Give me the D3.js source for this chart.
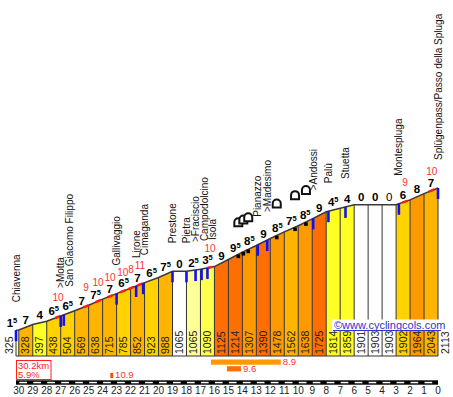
<!DOCTYPE html>
<html>
<head>
<meta charset="utf-8">
<script src="https://cdn.jsdelivr.net/npm/d3@7"></script>
<style>
  body { margin: 0; background: #fff; }
  svg { display: block; font-family: 'Liberation Sans', Arial, sans-serif; }
</style>
</head>
<body>
<svg width="453" height="397"></svg>
<script>
// km to the top, and altitude at each point
const kms = [30.2, 30, 29, 28, 27, 26, 25, 24, 23, 22, 21, 20, 19, 18, 17, 16, 15, 14, 13, 12, 11, 10, 9, 8, 7, 6, 5, 4, 3, 2, 1, 0];
const elevations = [325, 328, 397, 438, 504, 569, 638, 715, 785, 852, 923, 988, 1065, 1065, 1090, 1125, 1214, 1307, 1390, 1478, 1562, 1638, 1725, 1814, 1859, 1901, 1903, 1903, 1902, 1964, 2043, 2113];
// gradient label of each segment
const gradients = [1.5, 7, 4, 6.5, 6.5, 7, 7.5, 7, 6.5, 7, 6.5, 7.5, 0, 2.5, 3.5, 9, 9.5, 8.5, 9, 8.5, 7.5, 8.5, 9, 4.5, 4, 0, 0, 0, 6, 8, 7];

const placeNames = ['Chiavenna', '>Motta', 'San Giacomo Filippo', 'Gallivaggio', 'Lirone', 'Cimaganda', 'Prestone', 'Pietra', '>Fraciscio', 'Campodolcino', 'Isola', 'Pianazzo', '>Madesimo', '>Andossi', 'Palù', 'Stuetta', 'Montespluga', 'Splügenpass/Passo della Spluga'];
const placeKms = [30.2, 27.0, 26.78, 23.0, 21.6, 21.1, 19.0, 18.0, 17.35, 16.92, 16.5, 12.9, 12.22, 8.93, 7.84, 6.62, 2.8, 0];

const tunnelKms = [14.29, 13.93, 13.58, 11.54, 10.23, 9.45];

// short steep spots (max gradient)
const steepKms = [27.19, 25.19, 24.33, 23.47, 22.56, 21.97, 21.33, 16.32, 2.36, 0.45];
const steepValues = [10, 9, 10, 10, 10, 8, 11, 10, 9, 10];

// steepest 5 km, 1 km and shortest stretch
const steepestFrom = [16.25, 15.1, 23.45];
const steepestTo = [11.25, 14.1, 23.25];
const steepestValues = [8.9, 9.6, 10.9];

const kmTicks = [30, 29, 28, 27, 26, 25, 24, 23, 22, 21, 20, 19, 18, 17, 16, 15, 14, 13, 12, 11, 10, 9, 8, 7, 6, 5, 4, 3, 2, 1, 0];
const totalLength = '30.2km';
const avgGradient = '5.9%';

const svg = d3.select('svg');

const x = d3.scaleLinear().domain([30.2, 0]).range([16, 438]);
const y = d3.scaleLinear().domain([0, 2113]).range([356, 188]);
const elevAt = d3.scaleLinear().domain(kms).range(elevations);
const profileY = km => y(elevAt(km));

function fillFor(g) {
  if (g < 1) return '#ffffff';
  if (g < 2) return '#ffffcc';
  if (g < 3) return '#ffff99';
  if (g < 4) return '#ffff4d';
  if (g < 5) return '#ffff26';
  if (g < 6) return '#ffe600';
  if (g < 7) return '#ffd200';
  if (g < 8) return '#ffb400';
  if (g < 9) return '#ff9900';
  if (g < 10) return '#ff6e00';
  return '#ff4d00';
}

const segments = gradients.map((g, i) => ({
  i, g,
  k0: kms[i], k1: kms[i + 1],
  e0: elevations[i], e1: elevations[i + 1]
}));

// columns
svg.append('g').selectAll('path')
  .data(segments)
  .join('path')
  .attr('d', d => d3.line()([
    [x(d.k0), y(0)], [x(d.k0), y(d.e0)], [x(d.k1), y(d.e1)], [x(d.k1), y(0)]
  ]) + 'Z')
  .attr('fill', d => fillFor(d.g));

// km separators
svg.append('g').selectAll('line')
  .data(kms)
  .join('line')
  .attr('x1', d => x(d)).attr('x2', d => x(d))
  .attr('y1', y(0)).attr('y2', (d, i) => y(elevations[i]))
  .attr('stroke', '#333').attr('stroke-width', 1);

svg.append('line')
  .attr('x1', x(30.2)).attr('x2', x(0))
  .attr('y1', y(0)).attr('y2', y(0))
  .attr('stroke', '#333');

// profile outline
svg.append('path')
  .attr('d', d3.line().x(d => x(d[0])).y(d => y(d[1]))(kms.map((k, i) => [k, elevations[i]])))
  .attr('fill', 'none')
  .attr('stroke', '#3a3a3a')
  .attr('stroke-width', 1.5);

// steep spots
svg.append('g').selectAll('line')
  .data(steepKms)
  .join('line')
  .attr('x1', d => x(d + 0.2)).attr('y1', d => profileY(d + 0.2))
  .attr('x2', d => x(d - 0.2)).attr('y2', d => profileY(d - 0.2))
  .attr('stroke', '#ff1a1a').attr('stroke-width', 2.5);

svg.append('g').selectAll('text')
  .data(steepKms)
  .join('text')
  .attr('x', d => x(d))
  .attr('y', d => profileY(d) - 15.5)
  .attr('text-anchor', 'middle')
  .attr('font-size', 10)
  .attr('fill', '#ff3030')
  .text((d, i) => steepValues[i]);

// elevation labels inside columns
const elevLabels = svg.append('g')
  .attr('font-size', 10.5)
  .attr('fill', '#222');

elevLabels.selectAll('text')
  .data(elevations.map((e, i) => ({ e, i })))
  .join('text')
  .attr('transform', d => {
    let cx;
    if (d.i === 0) cx = x(kms[0]) - 7;
    else if (d.i === elevations.length - 1) cx = x(kms[d.i]) + 7;
    else cx = (x(kms[d.i]) + x(kms[d.i + 1])) / 2;
    return `translate(${cx},354) rotate(-90)`;
  })
  .attr('dy', '0.35em')
  .text(d => d.e);

// gradient labels
svg.append('g').selectAll('text')
  .data(segments)
  .join('text')
  .attr('x', d => {
    const w = x(d.k1) - x(d.k0);
    return w < 7 ? x(d.k1) - 1.5 : (x(d.k0) + x(d.k1)) / 2;
  })
  .attr('y', d => y((d.e0 + d.e1) / 2) - 3.5)
  .attr('text-anchor', d => (x(d.k1) - x(d.k0) < 7 ? 'end' : 'middle'))
  .attr('font-size', 11.5)
  .attr('font-weight', d => (d.e1 < d.e0 ? 'normal' : 'bold'))
  .attr('fill', '#000')
  .each(function (d) {
    const t = d3.select(this);
    t.append('tspan').text(Math.floor(d.g));
    if (d.g % 1) t.append('tspan').attr('font-size', 7.5).attr('dy', -4).text('5');
  });

// place markers
svg.append('g').selectAll('line')
  .data(placeKms)
  .join('line')
  .attr('x1', d => x(d)).attr('x2', d => x(d))
  .attr('y1', d => profileY(d)).attr('y2', d => profileY(d) + 11)
  .attr('stroke', '#1010ff').attr('stroke-width', 2.6);

// place labels, pushed apart when close
let lastX = -Infinity;
const placeX = placeKms.map(k => {
  const px = Math.max(x(k), lastX + 8.7);
  lastX = px;
  return px;
});

svg.append('g').selectAll('text')
  .data(placeNames)
  .join('text')
  .attr('transform', (d, i) => `translate(${placeX[i]},${profileY(placeKms[i]) - 28}) rotate(-90)`)
  .attr('dy', '0.35em')
  .attr('font-size', 10)
  .attr('fill', '#111')
  .text(d => d);

// tunnels
svg.append('g').selectAll('rect')
  .data(tunnelKms)
  .join('rect')
  .attr('x', d => x(d) - 1.8)
  .attr('y', d => profileY(d) + 0.3)
  .attr('width', 3.6).attr('height', 3.6)
  .attr('fill', '#000');

svg.append('g').selectAll('path')
  .data(tunnelKms)
  .join('path')
  .attr('d', d => {
    const cx = x(d), cy = profileY(d) - 32, r = 4;
    return `M${cx - r},${cy + r}V${cy}A${r},${r} 0 0 1 ${cx + r},${cy}V${cy + r}Z`;
  })
  .attr('fill', '#fff')
  .attr('stroke', '#111')
  .attr('stroke-width', 2);

// watermark
svg.append('rect')
  .attr('x', 332).attr('y', 319.5).attr('width', 109).attr('height', 11.5)
  .attr('fill', '#fff');
svg.append('text')
  .attr('x', 334).attr('y', 329)
  .attr('font-size', 11)
  .attr('fill', '#3333cc')
  .text('©www.cyclingcols.com');
svg.append('line')
  .attr('x1', 333).attr('x2', 441).attr('y1', 330.5).attr('y2', 330.5)
  .attr('stroke', '#3333cc').attr('stroke-width', 1);

// summary box
svg.append('rect')
  .attr('x', 16.5).attr('y', 360.5).attr('width', 34.5).attr('height', 19)
  .attr('fill', '#fff').attr('stroke', '#ff2020');
svg.append('text')
  .attr('x', 18).attr('y', 368.5)
  .attr('font-size', 9.5).attr('fill', '#ff2020')
  .text(totalLength);
svg.append('text')
  .attr('x', 18).attr('y', 378)
  .attr('font-size', 9.5).attr('fill', '#ff2020')
  .text(avgGradient);

// steepest stretches
const steep = svg.append('g');
steep.selectAll('rect')
  .data(steepestValues)
  .join('rect')
  .attr('x', (d, i) => x(steepestFrom[i]))
  .attr('y', (d, i) => 359.5 + i * 6.7)
  .attr('width', (d, i) => x(steepestTo[i]) - x(steepestFrom[i]))
  .attr('height', 5.2)
  .attr('fill', d => fillFor(d));
steep.selectAll('text')
  .data(steepestValues)
  .join('text')
  .attr('x', (d, i) => x(steepestTo[i]) + 2)
  .attr('y', (d, i) => 365 + i * 6.7)
  .attr('font-size', 9.5)
  .attr('fill', '#ff3030')
  .text(d => d);

// km axis
svg.append('rect')
  .attr('x', x(30.2)).attr('y', 380.3)
  .attr('width', x(0) - x(30.2)).attr('height', 4.4)
  .attr('fill', '#000');
svg.append('g').selectAll('rect')
  .data(kmTicks.filter(k => k > 0))
  .join('rect')
  .attr('x', d => x(d) + 0.5)
  .attr('y', 381.8)
  .attr('width', d => x(d - 0.55) - x(d))
  .attr('height', 1.5)
  .attr('fill', '#fff');

svg.append('g').selectAll('text')
  .data(kmTicks)
  .join('text')
  .attr('x', d => x(d))
  .attr('y', 394)
  .attr('text-anchor', 'middle')
  .attr('font-size', 10)
  .attr('fill', '#222')
  .text(d => d);
</script>
</body>
</html>
